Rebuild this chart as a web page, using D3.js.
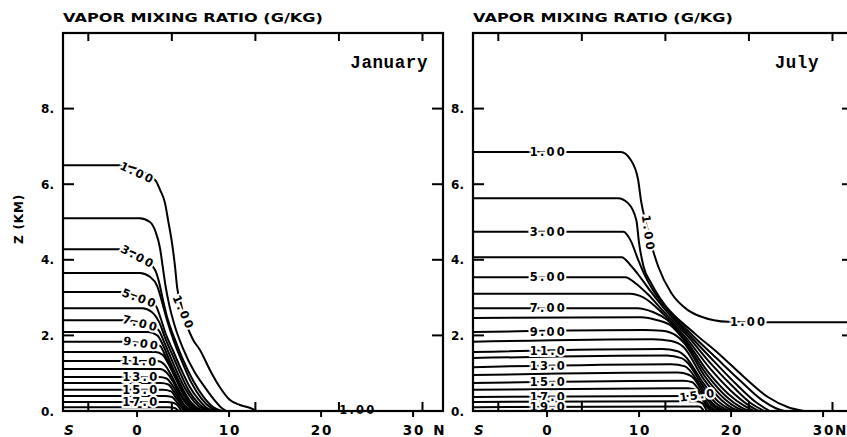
<!DOCTYPE html>
<html><head><meta charset="utf-8">
<script src="https://cdn.jsdelivr.net/npm/d3@7"></script>
<style>body{margin:0;background:#fff;overflow:hidden}</style>
</head><body><svg id="c" width="847" height="437"></svg>
<script>
// ---------- data ----------
const chartTitle = "VAPOR MIXING RATIO (G/KG)";
const yAxisTitle = "Z (KM)";
const xTickValues = [0, 10, 20, 30];
const xTickLabels = ["0", "10", "20", "30"];
const yTickValues = [0, 2, 4, 6, 8];
const yTickLabels = ["0.", "2.", "4.", "6.", "8."];
const kmTickLats = [-5.3, 3.78, 12.86, 21.94, 31.02];   // inner ticks (every 1000 km)
const latDomain = [-8.05, 33.25];
const zDomain = [0, 10];

// January contours: [lat, z(km)] points, levels 1..18 g/kg
const janLevels = [1,2,3,4,5,6,7,8,9,10,11,12,13,14,15,16,17,18];
const janLines = [
 [[-8.1,6.5],[-1.85,6.5],[1.96,6.11],[2.5,5.85],[3.04,5.5],[3.37,5.05],[3.8,4.44],[4.13,3.81],[4.35,3.28],[4.8,2.8],[5.4,2.28],[6.1,1.88],[6.85,1.61],[7.93,1.08],[9.0,0.63],[10.1,0.29],[11.2,0.16],[12.3,0.08],[13.0,0]],
 [[-8.1,5.1],[0.3,5.1],[1.4,5.0],[2.0,4.75],[2.5,4.3],[2.8,3.8],[3.1,3.3],[3.5,2.8],[4.1,2.25],[5.0,1.65],[6.2,1.05],[7.3,0.65],[8.3,0.32],[9.1,0.1],[9.7,0]],
 [[-8.1,4.28],[-1.8,4.28],[0.2,4.12],[1.96,3.73],[2.4,3.4],[2.8,2.95],[3.3,2.45],[4.1,1.9],[5.0,1.35],[6.1,0.8],[7.3,0.35],[8.3,0.1],[9.2,0]],
 [[-8.1,3.65],[0.3,3.65],[1.4,3.55],[2.2,3.3],[2.7,2.9],[3.2,2.45],[4.0,1.85],[4.9,1.3],[5.9,0.75],[7.0,0.33],[8.0,0.09],[8.9,0]],
 [[-8.1,3.15],[-1.7,3.15],[0.2,3.0],[2.0,2.8],[2.5,2.5],[3.1,2.05],[3.9,1.6],[4.7,1.15],[5.7,0.65],[6.7,0.3],[7.6,0.08],[8.6,0]],
 [[-8.1,2.72],[0.6,2.72],[1.6,2.62],[2.4,2.35],[3.1,1.9],[3.9,1.45],[4.7,1.0],[5.6,0.55],[6.6,0.22],[7.4,0.06],[8.3,0]],
 [[-8.1,2.4],[-1.6,2.4],[0.3,2.35],[2.3,2.15],[2.9,1.85],[3.6,1.45],[4.4,1.0],[5.2,0.6],[6.2,0.25],[7.1,0.06],[8.0,0]],
 [[-8.1,2.09],[1.2,2.09],[2.2,2.0],[2.9,1.7],[3.6,1.3],[4.3,0.92],[5.1,0.52],[5.9,0.22],[6.8,0.05],[7.7,0]],
 [[-8.1,1.83],[-1.4,1.83],[0.5,1.8],[2.5,1.72],[3.0,1.5],[3.7,1.15],[4.4,0.8],[5.1,0.45],[5.9,0.18],[6.6,0.04],[7.4,0]],
 [[-8.1,1.56],[2.0,1.56],[2.8,1.48],[3.5,1.2],[4.2,0.85],[4.9,0.5],[5.6,0.22],[6.3,0.05],[7.1,0]],
 [[-8.1,1.32],[2.2,1.32],[3.0,1.22],[3.7,0.95],[4.4,0.62],[5.1,0.32],[5.8,0.1],[6.4,0.02],[6.8,0]],
 [[-8.1,1.11],[2.5,1.11],[3.2,1.02],[3.9,0.78],[4.5,0.5],[5.1,0.27],[5.7,0.1],[6.5,0]],
 [[-8.1,0.9],[2.4,0.9],[3.2,0.86],[3.9,0.66],[4.5,0.42],[5.0,0.2],[5.5,0.07],[6.1,0]],
 [[-8.1,0.74],[2.6,0.74],[3.4,0.7],[4.0,0.52],[4.6,0.3],[5.0,0.13],[5.7,0]],
 [[-8.1,0.56],[2.8,0.56],[3.7,0.52],[4.2,0.36],[4.7,0.2],[5.1,0.07],[5.4,0]],
 [[-8.1,0.4],[3.0,0.4],[3.8,0.37],[4.3,0.24],[4.8,0.1],[5.1,0]],
 [[-8.1,0.24],[3.2,0.24],[4.0,0.21],[4.5,0.12],[4.8,0]],
 [[-8.1,0.1],[3.4,0.1],[4.1,0.08],[4.5,0]]
];
const janLabelText = ["1.00","3.00","5.00","7.00","9.00","11.0","13.0","15.0","17.0","1.00","1.00"];
const janLabelPos  = [[0.05,6.3],[0.1,4.08],[0.3,2.98],[0.4,2.32],[0.5,1.79],[0.3,1.32],[0.4,0.9],[0.4,0.56],[0.4,0.24],[5.05,2.6],[24.0,0.02]];
const janLabelRot  = [25,28,20,14,9,3,0,0,0,66,0];
const janLabelHalo = [1,1,1,1,1,1,1,1,1,1,0];

// July contours, levels 1..19 g/kg
const julLevels = [1,2,3,4,5,6,7,8,9,10,11,12,13,14,15,16,17,18,19];
const julLines = [
 [[-8.1,6.85],[8.0,6.85],[9.1,6.64],[9.9,6.11],[10.2,5.58],[10.8,4.92],[11.5,4.26],[12.1,3.81],[13.5,3.12],[15.3,2.67],[16.7,2.5],[19.7,2.36],[23.0,2.35],[33.5,2.35]],
 [[-8.1,5.63],[7.7,5.63],[8.8,5.5],[9.7,5.05],[10.0,4.44],[10.5,3.81],[11.3,3.39],[12.4,2.94],[16.0,2.06],[18.6,1.53],[21.4,0.9],[24.0,0.37],[26.2,0.1],[27.9,0]],
 [[-8.1,4.74],[8.3,4.74],[9.1,4.5],[9.9,4.0],[10.6,3.6],[11.5,3.2],[12.5,2.85],[15.6,2.05],[18.4,1.4],[21.0,0.8],[23.3,0.3],[24.8,0.08],[25.8,0]],
 [[-8.1,4.07],[8.1,4.07],[9.1,3.85],[10.1,3.55],[11.3,3.15],[12.6,2.75],[15.4,2.02],[18.2,1.3],[20.6,0.7],[22.6,0.25],[24.2,0]],
 [[-8.1,3.54],[8.5,3.54],[9.6,3.38],[10.9,3.1],[12.6,2.65],[15.2,2.0],[18.0,1.2],[20.3,0.62],[22.2,0.2],[23.6,0]],
 [[-8.1,3.1],[9.0,3.1],[10.5,3.0],[12.7,2.55],[15.0,1.97],[17.8,1.1],[20.0,0.53],[21.8,0.17],[23.0,0]],
 [[-8.1,2.72],[9.8,2.72],[11.5,2.62],[13.0,2.42],[14.9,1.93],[17.6,1.0],[19.7,0.45],[21.4,0.14],[22.5,0]],
 [[-8.1,2.46],[10.2,2.48],[12.0,2.4],[13.5,2.25],[14.8,1.9],[17.4,0.95],[19.5,0.38],[21.0,0.11],[22.0,0]],
 [[-8.1,2.09],[10.5,2.14],[12.5,2.12],[14.0,2.0],[14.9,1.8],[17.2,0.9],[19.3,0.32],[20.6,0.09],[21.5,0]],
 [[-8.1,1.83],[11.5,1.9],[13.5,1.85],[14.8,1.7],[17.0,0.85],[19.0,0.28],[20.2,0.07],[21.0,0]],
 [[-8.1,1.56],[12.5,1.64],[14.2,1.58],[15.0,1.45],[16.8,0.8],[18.6,0.25],[19.8,0.06],[20.5,0]],
 [[-8.1,1.40],[13.0,1.47],[14.6,1.4],[15.3,1.27],[16.7,0.75],[18.3,0.22],[19.4,0.05],[20.0,0]],
 [[-8.1,1.16],[13.5,1.24],[15.0,1.18],[15.6,1.05],[16.6,0.7],[18.0,0.2],[19.5,0]],
 [[-8.1,0.95],[14.2,1.02],[15.4,0.96],[16.0,0.85],[16.6,0.62],[17.8,0.18],[19.0,0]],
 [[-8.1,0.74],[14.8,0.8],[15.8,0.76],[16.2,0.66],[16.7,0.5],[17.6,0.15],[18.6,0]],
 [[-8.1,0.56],[15.3,0.6],[16.2,0.56],[16.6,0.45],[17.4,0.14],[18.2,0]],
 [[-8.1,0.37],[15.8,0.4],[16.6,0.36],[17.0,0.26],[17.4,0.1],[17.8,0]],
 [[-8.1,0.24],[16.2,0.26],[16.9,0.2],[17.2,0.08],[17.4,0]],
 [[-8.1,0.1],[16.5,0.12],[16.9,0.05],[17.0,0]]
];
const julLabelText = ["1.00","3.00","5.00","7.00","9.00","11.0","13.0","15.0","17.0","19.0","1.00","1.00","15.0"];
const julLabelPos  = [[0.15,6.85],[0.15,4.74],[0.15,3.54],[0.15,2.72],[0.15,2.09],[0.15,1.58],[0.15,1.18],[0.15,0.76],[0.15,0.38],[0.15,0.1],[11.0,4.7],[21.9,2.35],[16.4,0.42]];
const julLabelRot  = [0,0,0,0,0,0,0,0,0,0,82,0,-8];
const julLabelHalo = [1,1,1,1,1,1,1,1,1,1,1,1,1];

const panels = [
  {month:"January", monthLat:31.62, nLat:32.8, lines:janLines, levels:janLevels,
   lt:janLabelText, lp:janLabelPos, lr:janLabelRot, lh:janLabelHalo},
  {month:"July", monthLat:29.56, nLat:31.9, lines:julLines, levels:julLevels,
   lt:julLabelText, lp:julLabelPos, lr:julLabelRot, lh:julLabelHalo}
];

// ---------- layout ----------
const plotW = 380, plotH = 378, plotTop = 33;
const panelLeft = [63, 473];
const svg = d3.select("#c");
const FONT = "'DejaVu Sans', Verdana, sans-serif";

svg.append("text").text(yAxisTitle)
  .attr("transform", "translate(19,219) rotate(-90)")
  .attr("text-anchor","middle").attr("dominant-baseline","central")
  .style("font-family",FONT).style("font-weight","bold").style("font-size","12px")
  .style("letter-spacing","0.8px");

panels.forEach((p, i) => {
  const left = panelLeft[i];
  const x = d3.scaleLinear().domain(latDomain).range([left, left + plotW]);
  const y = d3.scaleLinear().domain(zDomain).range([plotTop + plotH, plotTop]);
  const g = svg.append("g");

  const clipId = "clip" + i;
  g.append("clipPath").attr("id", clipId).append("rect")
    .attr("x", left).attr("y", plotTop).attr("width", plotW).attr("height", plotH);

  g.append("text").text(chartTitle)
    .attr("x", left).attr("y", 22)
    .attr("textLength", 260).attr("lengthAdjust","spacingAndGlyphs")
    .style("font-family",FONT).style("font-weight","bold").style("font-size","12.8px");

  const line = d3.line().x(d => x(d[0])).y(d => y(d[1])).curve(d3.curveMonotoneX);
  g.append("g").attr("clip-path", `url(#${clipId})`)
    .selectAll("path").data(p.lines).join("path")
    .attr("d", line).attr("fill","none").attr("stroke","#000")
    .attr("stroke-width",2).attr("stroke-linejoin","round");

  const lab = g.append("g");
  p.lt.forEach((t, k) => {
    lab.append("text").text(t)
      .attr("transform", `translate(${x(p.lp[k][0])},${y(p.lp[k][1])}) rotate(${p.lr[k]})`)
      .attr("text-anchor","middle").attr("dominant-baseline","central")
      .style("font-family",FONT).style("font-weight","bold").style("font-size","11.5px")
      .style("letter-spacing","2.2px")
      .style("paint-order","stroke")
      .attr("stroke", p.lh[k] ? "#fff" : "none").attr("stroke-width", 4)
      .attr("fill","#000");
  });

  g.append("rect").attr("x", left).attr("y", plotTop).attr("width", plotW).attr("height", plotH)
    .attr("fill","none").attr("stroke","#000").attr("stroke-width",2.2);

  yTickValues.forEach((v, k) => {
    if (v > zDomain[0]) {
      g.append("line").attr("x1", left).attr("x2", left + 11).attr("y1", y(v)).attr("y2", y(v))
        .attr("stroke","#000").attr("stroke-width",2);
      g.append("line").attr("x1", left + plotW).attr("x2", left + plotW - 11).attr("y1", y(v)).attr("y2", y(v))
        .attr("stroke","#000").attr("stroke-width",2);
    }
    g.append("text").text(yTickLabels[k])
      .attr("x", left - 9).attr("y", y(v) + 4.5).attr("text-anchor","end")
      .style("font-family",FONT).style("font-weight","bold").style("font-size","12px");
  });

  kmTickLats.forEach(v => {
    g.append("line").attr("x1", x(v)).attr("x2", x(v)).attr("y1", plotTop).attr("y2", plotTop + 8)
      .attr("stroke","#000").attr("stroke-width",2);
    g.append("line").attr("x1", x(v)).attr("x2", x(v)).attr("y1", plotTop + plotH).attr("y2", plotTop + plotH - 9)
      .attr("stroke","#000").attr("stroke-width",2);
  });

  xTickValues.forEach((v, k) => {
    g.append("line").attr("x1", x(v)).attr("x2", x(v)).attr("y1", plotTop + plotH).attr("y2", plotTop + plotH + 6)
      .attr("stroke","#000").attr("stroke-width",2);
    g.append("text").text(xTickLabels[k])
      .attr("x", x(v) + 1).attr("y", 435).attr("text-anchor","middle")
      .style("font-family",FONT).style("font-weight","bold").style("font-size","13.5px")
      .style("letter-spacing","2px");
  });
  g.append("text").text("S").attr("x", x(-7.4)).attr("y", 435).attr("text-anchor","middle")
    .style("font-family",FONT).style("font-weight","bold").style("font-style","italic").style("font-size","13.5px");
  g.append("text").text("N").attr("x", x(p.nLat)).attr("y", 435).attr("text-anchor","middle")
    .style("font-family",FONT).style("font-weight","bold").style("font-size","13.5px");

  g.append("text").text(p.month)
    .attr("x", x(p.monthLat)).attr("y", y(9.07)).attr("text-anchor","end")
    .style("font-family","'Liberation Mono', 'Courier New', monospace").style("font-weight","bold")
    .style("font-size","17.5px").style("letter-spacing","0.6px");
});
</script>
</body></html>
